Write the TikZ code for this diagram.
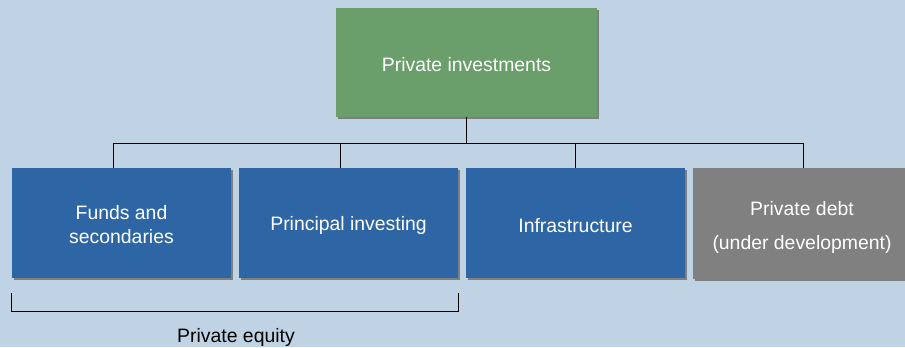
\documentclass[tikz,border=0pt]{standalone}
\usepackage{fontspec}
\setmainfont{Liberation Sans}
\usetikzlibrary{shadows}
\definecolor{bgc}{HTML}{BFD3E4}
\definecolor{greenc}{HTML}{6A9E6A}
\definecolor{bluec}{HTML}{2E66A5}
\definecolor{grayc}{HTML}{808080}
\definecolor{shadc}{HTML}{7F7F7F}
\begin{document}
\begin{tikzpicture}[x=1bp,y=-1bp,
  box/.style={rectangle,draw=none,inner sep=0pt,
    drop shadow={shadow xshift=2bp,shadow yshift=-2bp,fill=shadc,opacity=1}},
  lowbox/.style={box,minimum width=219bp,minimum height=110bp},
  txt/.style={inner sep=0pt,text=white,align=center,
    font=\fontsize{19.4bp}{24bp}\selectfont},
  conn/.style={draw=black,line width=0.8bp}]
\fill[bgc] (0,0) rectangle (905,347);
\useasboundingbox (0,0) rectangle (905,347);
\node[box,fill=greenc,minimum width=261bp,minimum height=109bp] (top) at (466.5,62.5) {};
\node[txt] (topT) at ([yshift=-2bp]top.center) {Private investments};
\node[lowbox,fill=bluec] (funds) at (121.5,223) {};
\node[txt] (fundsT) at ([yshift=-2bp]funds.center) {Funds and\\secondaries};
\node[lowbox,fill=bluec] (princ) at (348.5,223) {};
\node[txt] (princT) at ([yshift=-2.5bp]princ.center) {Principal investing};
\node[lowbox,fill=bluec] (infra) at (575.5,223) {};
\node[txt] (infraT) at ([yshift=-2.5bp]infra.center) {Infrastructure};
\node[box,fill=grayc,minimum width=218bp,minimum height=111bp] (debt) at (802,223.5) {};
\node[txt,font=\fontsize{19.4bp}{34bp}\selectfont] (debtT) at ([yshift=-3.5bp]debt.center) {Private debt\\(under development)};
% connectors
\coordinate (j) at (top.south |- 0,143);
\coordinate (j1) at (113,143);
\coordinate (j2) at (340,143);
\coordinate (j3) at (575,143);
\coordinate (j4) at (803,143);
\draw[conn] (top.south) -- (j);
\draw[conn] (j1) -- (j4);
\draw[conn] (j1) -- (j1 |- funds.north);
\draw[conn] (j2) -- (j2 |- princ.north);
\draw[conn] (j3) -- (j3 |- infra.north);
\draw[conn] (j4) -- (j4 |- debt.north);
% bracket
\coordinate (bl) at (funds.south west |- 0,293);
\coordinate (br) at (princ.south east |- 0,293);
\draw[conn] (bl) -- (bl |- 0,311) -- (br |- 0,311) -- (br);
\node[font=\fontsize{19.4bp}{24bp}\selectfont,text=black] (pe) at (236,337) {Private equity};
\end{tikzpicture}
\end{document}
